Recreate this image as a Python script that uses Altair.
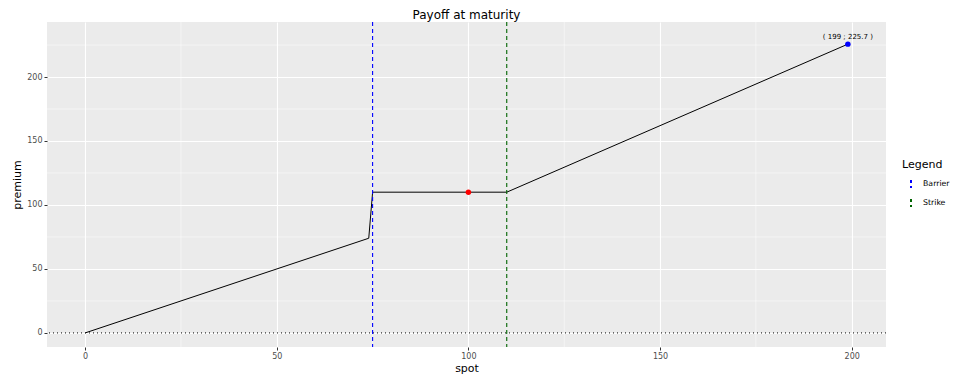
import altair as alt
import pandas as pd

# Payoff curve (spot, premium)
spot = [0, 74, 75, 110, 199]
premium = [0, 74, 110, 110, 225.7]

# Highlighted points
pt_spot = [100, 199]
pt_prem = [110, 225.7]
pt_color = ["red", "blue"]

# Label
lab_spot = [199]
lab_y = [231]
lab_text = ["( 199 ; 225.7 )"]

# Vertical reference lines
ref_names = ["Barrier", "Strike"]
ref_spot = [75, 110]
ref_colors = ["blue", "darkgreen"]

# Ticks / grid
x_major = [0, 50, 100, 150, 200]
x_minor = [25, 75, 125, 175]
y_major = [0, 50, 100, 150, 200]
y_minor = [25, 75, 125, 175, 225]

FONT = "DejaVu Sans"
xs = alt.Scale(domain=[-9.95, 208.95], nice=False, zero=False)
ys = alt.Scale(domain=[-11, 243], nice=False, zero=False)

line_df = pd.DataFrame({"spot": spot, "premium": premium})
pts_df = pd.DataFrame({"spot": pt_spot, "premium": pt_prem, "c": pt_color})
lab_df = pd.DataFrame({"spot": lab_spot, "premium": lab_y, "t": lab_text})
ref_df = pd.DataFrame({"type": ref_names, "spot": ref_spot})

base_x = alt.X("spot:Q", scale=xs, title="spot",
               axis=alt.Axis(values=x_major, grid=True))
base_y = alt.Y("premium:Q", scale=ys, title="premium",
               axis=alt.Axis(values=y_major, grid=True))

minor_x = alt.Chart(pd.DataFrame({"v": x_minor})).mark_rule(
    color="white", strokeWidth=0.5).encode(x=alt.X("v:Q", scale=xs))
minor_y = alt.Chart(pd.DataFrame({"v": y_minor})).mark_rule(
    color="white", strokeWidth=0.5).encode(y=alt.Y("v:Q", scale=ys))

zero_line = alt.Chart(pd.DataFrame({"v": [0]})).mark_rule(
    color="black", strokeDash=[1, 3], strokeWidth=1).encode(y=alt.Y("v:Q", scale=ys))

line = alt.Chart(line_df).mark_line(color="black", strokeWidth=1).encode(
    x=base_x, y=base_y)

refs = alt.Chart(ref_df).mark_rule(strokeDash=[4, 3], strokeWidth=1.1).encode(
    x=alt.X("spot:Q", scale=xs),
    color=alt.Color("type:N",
                    scale=alt.Scale(domain=ref_names, range=ref_colors),
                    legend=alt.Legend(
                        title="Legend", orient="none", legendX=855, legendY=137,
                        symbolType="M0,-0.5L0,0.5", symbolSize=256,
                        symbolStrokeWidth=2, symbolDash=[3, 3],
                        titleFontSize=11, titleFontWeight="normal", titleFont=FONT,
                        labelFontSize=7.8, labelFont=FONT, labelColor="#000000",
                        labelOffset=3, titlePadding=5, rowPadding=2)),
)

points = alt.Chart(pts_df).mark_point(filled=True, size=30, opacity=1).encode(
    x=alt.X("spot:Q", scale=xs), y=alt.Y("premium:Q", scale=ys),
    color=alt.Color("c:N", scale=None))

label = alt.Chart(lab_df).mark_text(fontSize=7, font=FONT, color="#000000").encode(
    x=alt.X("spot:Q", scale=xs), y=alt.Y("premium:Q", scale=ys), text="t:N")

chart = alt.layer(minor_x, minor_y, zero_line, line, refs, points, label).properties(
    width=839, height=325,
    title=alt.TitleParams("Payoff at maturity", fontSize=12, font=FONT,
                          fontWeight="normal", anchor="middle", offset=-1),
    autosize=alt.AutoSizeParams(type="none"),
    padding={"left": 39, "top": 14, "right": 67, "bottom": 28},
).configure_view(fill="#EBEBEB", strokeWidth=0).configure_axis(
    domain=False, gridColor="white", gridWidth=1.1,
    tickColor="#333333", tickSize=3, tickWidth=1,
    labelColor="#4D4D4D", labelFontSize=8, labelFont=FONT, labelPadding=2,
    titleFontSize=11, titleFont=FONT, titleFontWeight="normal", titleColor="black",
).configure_axisX(titlePadding=2).configure_axisY(titlePadding=4)

chart.save("out.html", embed_options={"renderer": "svg", "actions": False})
